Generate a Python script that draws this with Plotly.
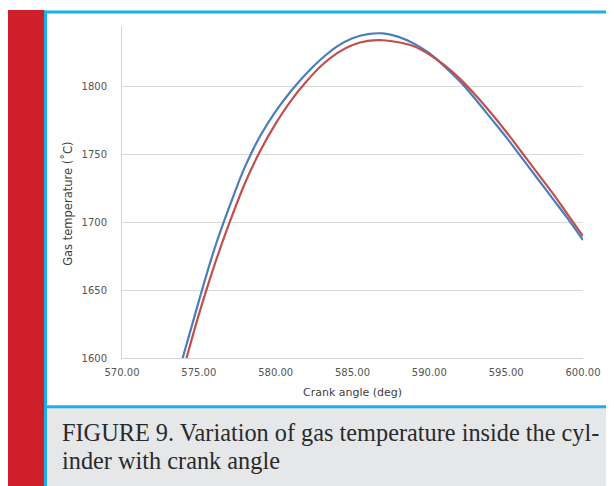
import plotly.graph_objects as go

# ---- data ----
crank_angle = [573, 574, 575, 576, 577, 578, 579, 580, 581, 582, 583, 584, 585, 586,
               587, 588, 589, 590, 591, 592, 593, 594, 595, 596, 597, 598, 599, 600]
temp_blue = [1560, 1602, 1642, 1680, 1712, 1741, 1764, 1782, 1797, 1810, 1821, 1830, 1836, 1839,
             1839.5, 1837, 1832, 1825, 1815, 1804, 1791, 1777, 1763, 1748, 1733, 1718, 1703, 1687]
temp_red = [1552, 1592, 1632, 1668, 1700, 1729, 1753, 1773, 1790, 1804, 1816, 1825, 1831, 1834,
            1834.5, 1833, 1830, 1824, 1816, 1806, 1794, 1781, 1767, 1752, 1737, 1722, 1706, 1690]

x_ticks = [570, 575, 580, 585, 590, 595, 600]
y_ticks = [1600, 1650, 1700, 1750, 1800]

x_title = "Crank angle (deg)"
y_title = "Gas temperature (˚C)"
caption_1 = "FIGURE 9. Variation of gas temperature inside the cyl-"
caption_2 = "inder with crank angle"

# ---- geometry (page pixels; the page body adds an 8px offset) ----
OFF = 8
W, H = 614 - OFF, 486 - OFF
L, R, T, B = 122, 583, 26, 358.3   # plot area in page pixels


def px(x):
    return (x - L) / (R - L)


def py(y):
    return (B - y) / (B - T)


fig = go.Figure()
fig.add_trace(go.Scatter(x=crank_angle, y=temp_blue, mode="lines",
                         line=dict(color="#4A7EBB", width=2.2, shape="spline"),
                         showlegend=False))
fig.add_trace(go.Scatter(x=crank_angle, y=temp_red, mode="lines",
                         line=dict(color="#C0504D", width=2.2, shape="spline"),
                         showlegend=False))

tick_font = dict(family="DejaVu Sans", size=10, color="#555555")

fig.update_layout(
    width=W, height=H,
    margin=dict(l=L - OFF, r=614 - R, t=T - OFF, b=486 - B, pad=0),
    paper_bgcolor="white", plot_bgcolor="white",
    xaxis=dict(range=[570, 600], tickvals=x_ticks, tickformat=".2f",
               showgrid=False, zeroline=False, showline=True,
               linecolor="#D4D4D4", linewidth=1, ticks="",
               tickfont=tick_font, ticklabelstandoff=5),
    yaxis=dict(range=[1600, 1845], tickvals=y_ticks, tickformat="d",
               showgrid=True, gridcolor="#D9D9D9", gridwidth=1,
               zeroline=False, showline=True, linecolor="#D4D4D4", linewidth=1,
               ticks="", tickfont=tick_font, ticklabelstandoff=12),
)

shapes = [
    # red side bar
    dict(type="rect", xref="paper", yref="paper", x0=px(8), x1=px(44), y0=py(10), y1=py(490),
         fillcolor="#CE1F2B", line=dict(width=0)),
    # caption background
    dict(type="rect", xref="paper", yref="paper", x0=px(47), x1=px(620), y0=py(408), y1=py(490),
         fillcolor="#E6E7E8", line=dict(width=0)),
    # blue frame: top, left, bottom
    dict(type="rect", xref="paper", yref="paper", x0=px(44), x1=px(620), y0=py(10.5), y1=py(13.5),
         fillcolor="#1CB0E9", line=dict(width=0)),
    dict(type="rect", xref="paper", yref="paper", x0=px(44), x1=px(47), y0=py(10.5), y1=py(490),
         fillcolor="#1CB0E9", line=dict(width=0)),
    dict(type="rect", xref="paper", yref="paper", x0=px(44), x1=px(620), y0=py(405.5), y1=py(408.5),
         fillcolor="#1CB0E9", line=dict(width=0)),
]
fig.update_layout(shapes=shapes)

annotations = [
    dict(text=x_title, xref="paper", yref="paper", x=px(352), y=py(393),
         xanchor="center", yanchor="middle", showarrow=False,
         font=dict(family="DejaVu Sans", size=11, color="#404040")),
    dict(text=y_title, xref="paper", yref="paper", x=px(68), y=py(204),
         xanchor="center", yanchor="middle", showarrow=False, textangle=-90,
         font=dict(family="DejaVu Sans", size=11.5, color="#404040")),
    dict(text=caption_1, xref="paper", yref="paper", x=px(60), y=py(433),
         xanchor="left", yanchor="middle", showarrow=False,
         font=dict(family="Liberation Serif", size=24.3, color="#2A2A2A")),
    dict(text=caption_2, xref="paper", yref="paper", x=px(60), y=py(461),
         xanchor="left", yanchor="middle", showarrow=False,
         font=dict(family="Liberation Serif", size=24.3, color="#2A2A2A")),
]
fig.update_layout(annotations=annotations)

fig.write_html("out.html")
